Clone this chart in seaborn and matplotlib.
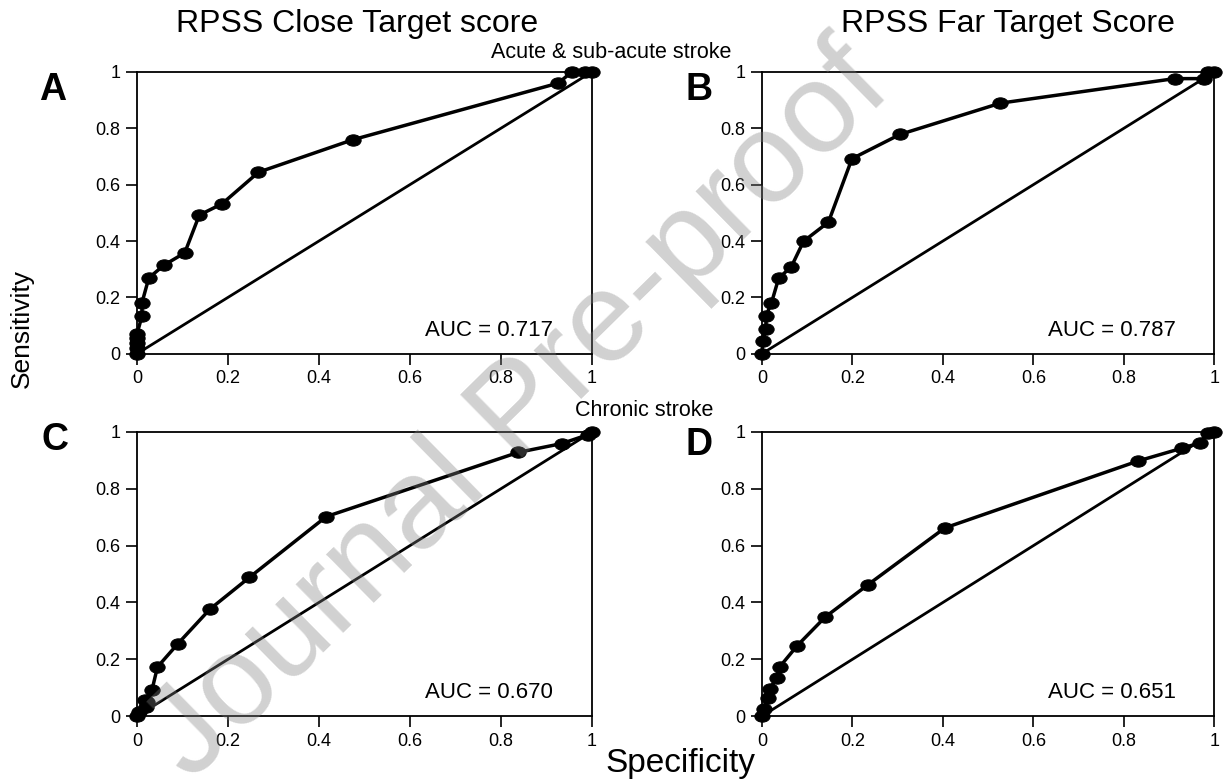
import numpy as np
import pandas as pd
import seaborn as sns
import matplotlib.pyplot as plt
from matplotlib.path import Path
from matplotlib.transforms import Affine2D

# ROC points (x = 1 - specificity style axis, y = sensitivity)
a_x = [0, 0, 0, 0, 0, 0.011, 0.011, 0.026, 0.059, 0.105, 0.137, 0.187, 0.267, 0.474, 0.926, 0.956, 0.985, 1.0]
a_y = [0, 0.02, 0.04, 0.055, 0.07, 0.134, 0.181, 0.269, 0.314, 0.358, 0.492, 0.532, 0.644, 0.759, 0.96, 1.0, 1.0, 1.0]

b_x = [0, 0.002, 0.009, 0.009, 0.021, 0.037, 0.065, 0.092, 0.147, 0.199, 0.305, 0.527, 0.912, 0.976, 0.985, 1.0]
b_y = [0, 0.045, 0.088, 0.135, 0.18, 0.268, 0.309, 0.399, 0.467, 0.692, 0.778, 0.889, 0.976, 0.976, 1.0, 1.0]

c_x = [0, 0.004, 0.019, 0.022, 0.017, 0.033, 0.045, 0.09, 0.16, 0.247, 0.416, 0.838, 0.934, 0.991, 1.0]
c_y = [0, 0.015, 0.033, 0.05, 0.057, 0.092, 0.173, 0.255, 0.376, 0.488, 0.702, 0.928, 0.959, 0.99, 1.0]

d_x = [0, 0.004, 0.013, 0.017, 0.033, 0.039, 0.078, 0.14, 0.234, 0.404, 0.832, 0.929, 0.967, 0.985, 1.0]
d_y = [0, 0.024, 0.063, 0.095, 0.136, 0.173, 0.248, 0.349, 0.462, 0.662, 0.898, 0.943, 0.961, 0.996, 1.0]

auc_vals = ["0.717", "0.787", "0.670", "0.651"]
panel_letters = ["A", "B", "C", "D"]
ticks = [0, 0.2, 0.4, 0.6, 0.8, 1]
tick_labels = ["0", "0.2", "0.4", "0.6", "0.8", "1"]

sns.set_style("white")
plt.rcParams['font.family'] = ['Liberation Sans', 'DejaVu Sans']
plt.rcParams['text.color'] = 'black'
plt.rcParams['xtick.color'] = 'black'
plt.rcParams['ytick.color'] = 'black'
plt.rcParams['axes.labelcolor'] = 'black'

fig = plt.figure(figsize=(12.23, 7.81), dpi=100)

# slightly squashed dots like the original
oval = Path(Affine2D().scale(1.35, 1.0).transform(Path.unit_circle().vertices),
            Path.unit_circle().codes)

positions = [
    [0.112, 0.547, 0.372, 0.361],
    [0.623, 0.547, 0.370, 0.361],
    [0.112, 0.083, 0.372, 0.364],
    [0.623, 0.083, 0.370, 0.364],
]
curves = [(a_x, a_y), (b_x, b_y), (c_x, c_y), (d_x, d_y)]

for i in range(4):
    ax = fig.add_axes(positions[i])
    cx, cy = curves[i]
    df = pd.DataFrame({'fpr': cx, 'tpr': cy, 'step': np.arange(len(cx))})
    # chance line
    sns.lineplot(x=[0, 1], y=[0, 1], ax=ax, color='black', lw=2.0, clip_on=False)
    sns.lineplot(data=df, x='fpr', y='tpr', sort=False, estimator=None, ax=ax,
                 color='black', lw=2.5, marker=oval, markersize=11,
                 markeredgecolor='black', markerfacecolor='black', clip_on=False)
    ax.set_xlim(0, 1)
    ax.set_ylim(0, 1)
    ax.set_xticks(ticks)
    ax.set_xticklabels(tick_labels)
    ax.set_yticks(ticks)
    ax.set_yticklabels(tick_labels)
    ax.set_xlabel('')
    ax.set_ylabel('')
    ax.tick_params(axis='both', direction='out', length=8, width=1.2,
                   labelsize=13, pad=4, bottom=True, left=True)
    for s in ax.spines.values():
        s.set_color('black')
        s.set_linewidth(1.3)
    ax.text(0.915, 0.045, "AUC = " + auc_vals[i], transform=ax.transAxes,
            ha='right', va='bottom', fontsize=16)

fig.text(0.292, 0.969, "RPSS Close Target score", ha='center', va='center', fontsize=23)
fig.text(0.824, 0.969, "RPSS Far Target Score", ha='center', va='center', fontsize=23)
fig.text(0.5, 0.933, "Acute & sub-acute stroke", ha='center', va='center', fontsize=15.5)
fig.text(0.527, 0.475, "Chronic stroke", ha='center', va='center', fontsize=15.5)
fig.text(0.556, 0.022, "Specificity", ha='center', va='center', fontsize=24)
fig.text(0.018, 0.58, "Sensitivity", ha='center', va='center', rotation=90, fontsize=19,
         family=['Liberation Sans Narrow', 'Liberation Sans'])

letter_pos = [(0.043, 0.885), (0.572, 0.885), (0.045, 0.437), (0.572, 0.43)]
for (lx, ly), lt in zip(letter_pos, panel_letters):
    fig.text(lx, ly, lt, ha='center', va='center', fontsize=27, fontweight='bold')

# watermark
fig.text(0.425, 0.47, "Journal Pre-proof", ha='center', va='center', rotation=44.5,
         fontsize=92, color='0.5', alpha=0.36, zorder=20)

fig.savefig("out.png", dpi=100)
